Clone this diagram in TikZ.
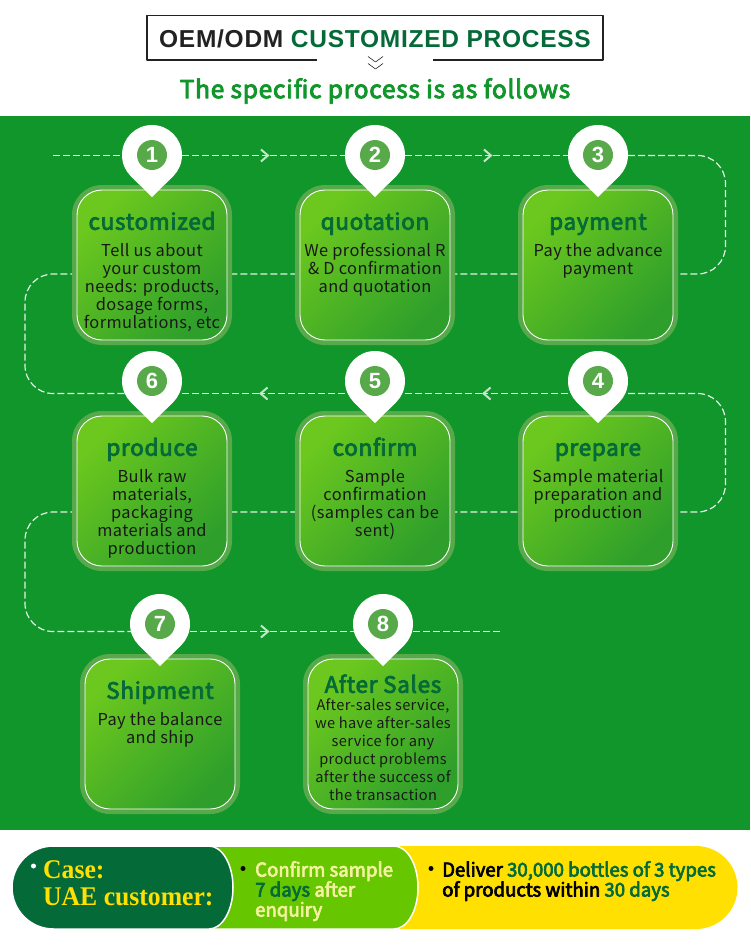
\documentclass[tikz,border=0pt]{standalone}
\usepackage{fontspec}
\usepackage{xcolor}
\usepackage{tikz}
\usetikzlibrary{arrows.meta,positioning}
\setmainfont{Noto Sans CJK SC}
\newfontfamily\cardfont{Noto Sans CJK SC}[LetterSpace=2.5]
\newfontfamily\headfont{Noto Sans CJK SC}[LetterSpace=3,FakeBold=3.5]
\newfontfamily\barfont{Noto Sans CJK SC}[FakeStretch=.98,FakeBold=3.5]
\newfontfamily\titlefont{Liberation Sans}[LetterSpace=3]
\newfontfamily\casefont{Liberation Serif}[FakeStretch=.95]
\definecolor{panelgreen}{HTML}{11962B}
\definecolor{deepgreen}{HTML}{046A38}
\definecolor{halogreen}{HTML}{58A94A}
\definecolor{cardlight}{HTML}{6CC81E}
\definecolor{carddark}{HTML}{2E9F2B}
\definecolor{barlime}{HTML}{66C600}
\definecolor{baryellow}{HTML}{FFE000}
\definecolor{palelime}{HTML}{F4F2A0}
\definecolor{titlegray}{HTML}{222222}
\pgfdeclarelayer{panel}
\pgfdeclarelayer{flow}
\pgfsetlayers{panel,flow,main}
\tikzset{
every picture/.style={line cap=butt,line join=round},
card halo/.style={
  fill=halogreen,
  rounded corners=30pt,
  minimum size=160pt,
  inner sep=0pt
},
card body/.style={
  draw=white,
  line width=0.9pt,
  rounded corners=25pt,
  minimum size=150pt,
  inner sep=0pt,
  shading=axis,
  top color=cardlight,
  bottom color=carddark,
  shading angle=45
},
pin head/.style={circle, fill=white, minimum size=60pt, inner sep=0pt},
pin number/.style={
  circle,
  fill=halogreen,
  minimum size=30pt,
  inner sep=0pt,
  text=white,
  font=\fontsize{22}{22}\titlefont\bfseries
},
card head/.style={
  text=deepgreen,
  inner sep=0pt,
  text height=20pt,
  text depth=6pt,
  font=\fontsize{22.5}{26}\headfont
},
card text/.style={
  text=black!90,
  align=center,
  inner sep=0pt,
  font=\fontsize{16.4}{18}\cardfont
},
flow line/.style={
  draw=white!88!panelgreen,
  line width=1.2pt,
  dash pattern=on 7pt off 3pt
},
flow tip/.style={
  -{Straight Barb[length=7pt,width=12pt,line width=2pt,color=white!75!panelgreen]}
},
bar text/.style={
  anchor=north west,
  align=left,
  inner sep=0pt,
  font=\fontsize{19}{20}\barfont
},
bar dot/.style={circle, minimum size=5pt, inner sep=0pt}
}
\begin{document}
\begin{tikzpicture}[x=1pt,y=-1pt]
\useasboundingbox (0,0) rectangle (750,952);
\begin{pgfonlayer}{panel}
\fill[white] (0,0) rectangle (750,952);
\fill[panelgreen] (0,116) rectangle (750,830);
\end{pgfonlayer}
% header
\draw[titlegray,line width=1.2pt] (317,60) -- (147,60) -- (147,15.5) -- (603,15.5) -- (603,60) -- (433,60);
\node[inner sep=0pt,font=\fontsize{24.5}{26}\titlefont\bfseries] (title) at (375,39) {\textcolor{titlegray}{OEM/ODM} \textcolor{deepgreen}{CUSTOMIZED PROCESS}};
\draw[titlegray,line width=0.6pt] (368,56.5) -- (375.5,62) -- (383,56.5);
\draw[titlegray,line width=0.6pt] (368,63.5) -- (375.5,69) -- (383,63.5);
\node[inner sep=0pt,text=panelgreen,font=\fontsize{24.5}{28}\headfont] (subtitle) at (375,91) {The specific process is as follows};
% cards and pins
\foreach \n/\x/\y in {1/152/265,2/375/265,3/598/265,4/598/491,5/375/491,6/152/491,7/160/734,8/383/734} {
  \node[card halo] (halo\n) at (\x,\y) {};
  \node[card body] (card\n) at (\x,\y) {};
  \node[pin head] (pin\n) at (\x,\y-110) {};
  \fill[white] (pin\n) ++(-21,21.4) -- ++(21,20.6) -- ++(21,-20.6) -- cycle;
  \node[pin number] (num\n) at (pin\n) {\n};
}
% card texts
\node[card head,below=20pt of card1.north] (head1) {customized};
\node[card text,below=7pt of head1] (text1) {Tell us about\\your custom\\needs: products,\\dosage forms,\\formulations, etc};
\node[card head,below=20pt of card2.north] (head2) {quotation};
\node[card text,below=7pt of head2] (text2) {We professional R\\\& D confirmation\\and quotation};
\node[card head,below=20pt of card3.north] (head3) {payment};
\node[card text,below=7pt of head3] (text3) {Pay the advance\\payment};
\node[card head,below=20pt of card4.north] (head4) {prepare};
\node[card text,below=7pt of head4] (text4) {Sample material\\preparation and\\production};
\node[card head,below=20pt of card5.north] (head5) {confirm};
\node[card text,below=7pt of head5] (text5) {Sample\\confirmation\\(samples can be\\sent)};
\node[card head,below=20pt of card6.north] (head6) {produce};
\node[card text,below=7pt of head6] (text6) {Bulk raw\\materials,\\packaging\\materials and\\production};
\node[card head,below=20pt of card7.north] (head7) {Shipment};
\node[card text,below=7pt of head7] (text7) {Pay the balance\\and ship};
\node[card head,below=14pt of card8.north] (head8) {After Sales};
\node[card text,below=0pt of head8,font=\fontsize{14.6}{18}\cardfont] (text8) {After-sales service,\\we have after-sales\\service for any\\product problems\\after the success of\\the transaction};
% dashed route
\coordinate (startA) at (53,155.5);
\coordinate (chevA) at (269.5,155.5);
\coordinate (chevB) at (492.5,155.5);
\coordinate (bendA) at (725.5,274);
\coordinate (bendB) at (25,274);
\coordinate (laneB) at (25,393.5);
\coordinate (chevC) at (482,393.5);
\coordinate (chevD) at (259,393.5);
\coordinate (bendC) at (725.5,393.5);
\coordinate (bendD) at (725.5,512);
\coordinate (bendE) at (25,512);
\coordinate (laneC) at (25,631.5);
\coordinate (chevE) at (269.5,631.5);
\coordinate (endA) at (502,631.5);
\begin{pgfonlayer}{flow}
\draw[flow line] (startA) -- (startA -| pin1);
\draw[flow line,flow tip] (startA -| pin1) -- (chevA);
\draw[flow line] (chevA) -- (startA -| pin2);
\draw[flow line,flow tip] (startA -| pin2) -- (chevB);
\draw[flow line] (chevB) -- (startA -| pin3);
\draw[flow line,rounded corners=28pt] (startA -| pin3) -| (bendA) -- (bendB) |- (laneB -| pin6);
\draw[flow line,rounded corners=28pt] (bendC -| pin4) -| (bendD) -- (bendE) |- (laneC -| pin7);
\draw[flow line,flow tip] (bendC -| pin4) -- (chevC);
\draw[flow line] (chevC) -- (bendC -| pin5);
\draw[flow line,flow tip] (bendC -| pin5) -- (chevD);
\draw[flow line] (chevD) -- (bendC -| pin6);
\draw[flow line,flow tip] (laneC -| pin7) -- (chevE);
\draw[flow line] (chevE) -- (laneC -| pin8);
\draw[flow line] (laneC -| pin8) -- (endA);
\end{pgfonlayer}
% case bar
\fill[baryellow] (385,846) -- (696,846) arc[start angle=-90,end angle=90,x radius=41.5,y radius=41.5] -- (385,929) -- cycle;
\filldraw[barlime,draw=white,line width=1.5pt] (200,846) -- (394,846) arc[start angle=-90,end angle=90,x radius=24,y radius=41.5] -- (200,929) -- cycle;
\filldraw[deepgreen,draw=white,line width=1.5pt] (53.5,846) -- (209,846) arc[start angle=-90,end angle=90,x radius=24,y radius=41.5] -- (53.5,929) arc[start angle=90,end angle=270,x radius=41.5,y radius=41.5] -- cycle;
\node[bar dot,fill=white] (dotA) at (33.5,866) {};
\node[bar text,text=baryellow,font=\fontsize{27}{26.5}\casefont\bfseries] (caseText) at (43,860.5) {Case:\\UAE customer:};
\node[bar dot,fill=black] (dotB) at (243,868.5) {};
\node[bar text,text=palelime] (sampleText) at (255,861) {Confirm sample\\\textcolor{deepgreen}{7 days} after\\enquiry};
\node[bar dot,fill=black] (dotC) at (431,868.5) {};
\node[bar text] (deliverText) at (442,861) {Deliver \textcolor{deepgreen}{30,000 bottles of 3 types}\\of products within \textcolor{deepgreen}{30 days}};
\end{tikzpicture}
\end{document}
